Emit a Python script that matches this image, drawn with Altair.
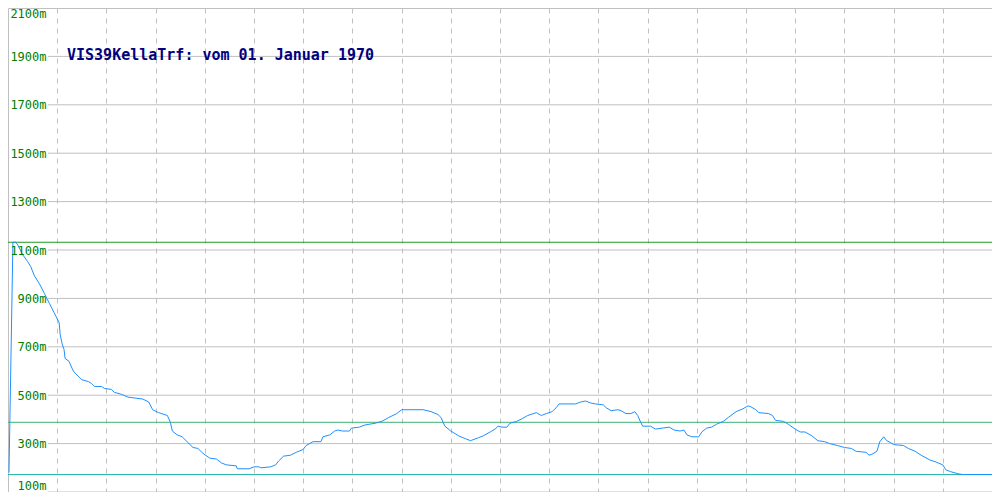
import altair as alt
import pandas as pd

# time index (0..1000) and level in metres
t = [1, 5, 8, 10, 15, 20, 23, 27, 32, 37, 42, 47, 52, 53, 55, 57, 58, 62, 65, 67, 72, 75, 82, 85, 88, 95, 98,
     105, 108, 115, 122, 137, 143, 147, 153, 162, 165, 167, 172, 177, 182, 188, 193, 198, 205, 212, 217, 222,
     232, 233, 245, 250, 255, 257, 267, 272, 275, 280, 287, 293, 300, 303, 310, 318, 320, 327, 332, 335, 340,
     347, 349, 357, 362, 367, 373, 380, 387, 395, 400, 422, 430, 437, 440, 444, 450, 458, 465, 470, 478, 483,
     490, 495, 498, 502, 507, 510, 517, 523, 528, 537, 542, 547, 553, 557, 560, 577, 582, 587, 592, 597, 605,
     608, 613, 620, 623, 628, 633, 637, 640, 643, 645, 653, 658, 665, 672, 677, 683, 687, 690, 695, 702, 705,
     710, 715, 720, 727, 732, 740, 747, 752, 755, 760, 763, 773, 777, 780, 788, 793, 800, 805, 810, 817, 823,
     830, 835, 843, 850, 857, 862, 872, 875, 878, 883, 886, 890, 893, 897, 900, 910, 915, 922, 928, 937, 943,
     950, 953, 958, 965, 970, 1000]
level = [180, 1132, 1132, 1120, 1080, 1052, 1032, 992, 960, 920, 880, 840, 800, 752, 712, 688, 652, 640, 612,
         596, 576, 564, 556, 548, 536, 536, 528, 524, 512, 504, 492, 484, 472, 440, 428, 416, 388, 352, 336,
         328, 308, 284, 280, 260, 240, 236, 220, 212, 208, 196, 196, 204, 204, 200, 204, 212, 228, 248, 252,
         264, 276, 292, 308, 308, 328, 336, 352, 356, 352, 352, 364, 368, 376, 380, 384, 392, 408, 424, 440,
         440, 432, 420, 408, 372, 352, 332, 320, 312, 324, 332, 348, 360, 372, 368, 368, 384, 392, 404, 416,
         428, 416, 424, 432, 448, 464, 464, 472, 476, 468, 464, 460, 448, 436, 440, 436, 424, 424, 432, 416,
         388, 372, 372, 360, 364, 368, 356, 352, 356, 336, 328, 328, 348, 364, 368, 380, 392, 408, 432, 444,
         456, 452, 440, 428, 424, 416, 396, 392, 380, 360, 348, 348, 332, 312, 308, 300, 292, 284, 280, 268,
         264, 252, 256, 268, 308, 328, 312, 304, 296, 292, 280, 268, 252, 232, 224, 212, 192, 184, 176, 172,
         172]

grid_values = [100, 300, 500, 700, 900, 1100, 1300, 1500, 1700, 1900, 2100]
vgrid_values = [50, 100, 150, 200, 250, 300, 350, 400, 450, 500, 550, 600, 650, 700, 750, 800, 850, 900, 950]
ref_levels = [1132, 388, 172]
ref_names = ["a", "b", "c"]
ref_colors = ["#1f9a1f", "#3cb371", "#20b2aa"]
title_text = "VIS39KellaTrf: vom 01. Januar 1970"

W, H = 984, 484
xdom = [0, 1000]
ydom = [100, 2100]

df = pd.DataFrame({"t": t, "level": level})
gdf = pd.DataFrame({"v": grid_values})
rdf = pd.DataFrame({"v": ref_levels, "name": ref_names})

yscale = alt.Scale(domain=ydom, nice=False, zero=False)
xscale = alt.Scale(domain=xdom, nice=False, zero=False)

yaxis = alt.Axis(values=grid_values, grid=False, ticks=False, domain=False,
                 labelExpr="datum.value + 'm'", labelColor="#008000",
                 labelFont="DejaVu Sans Mono", labelFontSize=12,
                 labelAlign="right", labelPadding=1, offset=-39,
                 labelFlush=True, title=None, zindex=1)

hgrid = alt.Chart(gdf).mark_rule(color="#c0c0c0", strokeWidth=1).encode(
    y=alt.Y("v:Q", scale=yscale, axis=yaxis),
    x=alt.value(40), x2=alt.value(W),
)

refs = alt.Chart(rdf).mark_rule(strokeWidth=1).encode(
    y=alt.Y("v:Q", scale=yscale, axis=yaxis),
    color=alt.Color("name:N", scale=alt.Scale(domain=ref_names, range=ref_colors), legend=None),
    x=alt.value(0), x2=alt.value(W),
)

line = alt.Chart(df).mark_line(color="#1e90ff", strokeWidth=1, interpolate="linear").encode(
    x=alt.X("t:Q", scale=xscale,
            axis=alt.Axis(values=vgrid_values, grid=True, gridColor="#c0c0c0", gridDash=[5, 5],
                          labels=False, ticks=False, domain=False, title=None)),
    y=alt.Y("level:Q", scale=yscale, axis=yaxis),
)

title = alt.Chart(pd.DataFrame({"s": [title_text]})).mark_text(
    align="left", baseline="middle", font="DejaVu Sans Mono", fontWeight="bold",
    fontSize=15, color="#000080",
).encode(text="s:N", x=alt.value(59), y=alt.value(47))

chart = alt.layer(hgrid, refs, line, title).properties(
    width=W, height=H, padding=0,
    autosize=alt.AutoSizeParams(type="none"),
).configure_view(stroke="#c0c0c0", strokeWidth=1)

chart.save("out.html", embed_options={"renderer": "svg", "actions": False})
